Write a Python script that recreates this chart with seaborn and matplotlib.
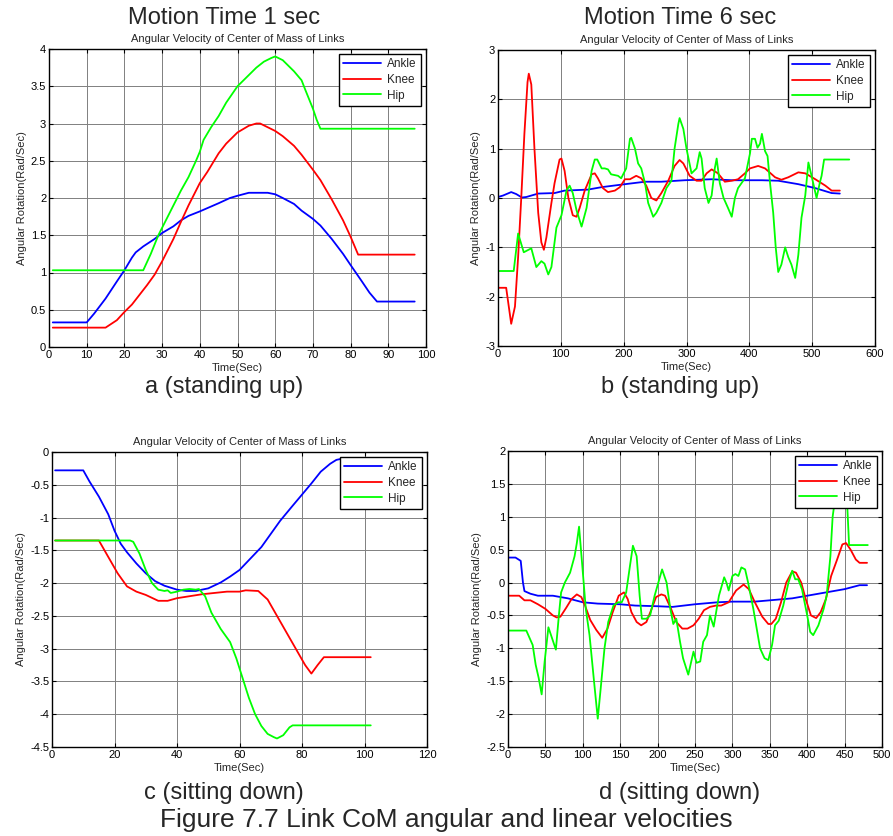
import numpy as np
import pandas as pd
import seaborn as sns
import matplotlib
matplotlib.use("Agg")
import matplotlib.pyplot as plt

# ---------------- data ----------------
joints = ["Ankle", "Knee", "Hip"]
colors = ["#0000FF", "#FF0000", "#00FF00"]

# Panel a (standing up, 1 sec)
a_ankle_x = [1, 10, 12, 15, 18, 20, 22, 23, 25, 28, 30, 33, 35, 37, 40, 45, 48, 50, 53, 58, 60, 62, 65, 67, 70, 72, 75, 78, 80, 83, 85, 87, 97]
a_ankle_y = [0.33, 0.33, 0.45, 0.65, 0.88, 1.03, 1.2, 1.27, 1.35, 1.45, 1.53, 1.62, 1.7, 1.76, 1.82, 1.93, 2.0, 2.03, 2.07, 2.07, 2.05, 2.0, 1.92, 1.83, 1.72, 1.63, 1.45, 1.25, 1.1, 0.88, 0.73, 0.61, 0.61]
a_knee_x = [1, 15, 18, 20, 22, 24, 26, 28, 30, 33, 35, 37, 40, 42, 45, 47, 50, 53, 55, 56, 58, 60, 62, 65, 67, 70, 72, 75, 78, 80, 82, 97]
a_knee_y = [0.26, 0.26, 0.36, 0.47, 0.57, 0.7, 0.83, 0.97, 1.15, 1.45, 1.68, 1.9, 2.2, 2.35, 2.6, 2.73, 2.88, 2.97, 3.0, 3.0, 2.95, 2.9, 2.83, 2.7, 2.58, 2.38, 2.24, 1.98, 1.7, 1.48, 1.24, 1.24]
a_hip_x = [1, 25, 27, 29, 31, 33, 35, 37, 39, 40, 41, 43, 45, 47, 50, 53, 55, 57, 59, 60, 62, 65, 67, 68, 70, 71, 72, 97]
a_hip_y = [1.03, 1.03, 1.25, 1.5, 1.7, 1.9, 2.1, 2.28, 2.5, 2.62, 2.78, 2.95, 3.1, 3.28, 3.5, 3.65, 3.75, 3.83, 3.88, 3.9, 3.85, 3.7, 3.58, 3.45, 3.2, 3.05, 2.93, 2.93]

# Panel b (standing up, 6 sec)
b_ankle_x = [0, 8, 21, 29, 38, 45, 64, 90, 106, 143, 165, 202, 234, 260, 297, 340, 372, 420, 446, 478, 505, 531, 544]
b_ankle_y = [0.02, 0.05, 0.12, 0.08, 0.01, 0.02, 0.09, 0.1, 0.15, 0.17, 0.22, 0.28, 0.33, 0.33, 0.36, 0.38, 0.36, 0.36, 0.35, 0.28, 0.2, 0.1, 0.09]
b_knee_x = [0, 13, 21, 27, 32, 37, 42, 47, 49, 53, 58, 64, 69, 73, 77, 85, 90, 98, 101, 106, 112, 119, 125, 130, 138, 149, 154, 159, 167, 175, 186, 194, 202, 210, 220, 228, 236, 244, 252, 260, 271, 281, 289, 295, 305, 316, 324, 332, 340, 350, 361, 372, 382, 393, 401, 414, 425, 441, 451, 462, 478, 489, 505, 521, 531, 544]
b_knee_y = [-1.82, -1.82, -2.55, -2.2, -1.2, 0.0, 1.3, 2.35, 2.52, 2.3, 1.0, -0.3, -0.9, -1.05, -0.8, -0.1, 0.3, 0.78, 0.8, 0.55, 0.0, -0.35, -0.38, -0.2, 0.15, 0.48, 0.5, 0.4, 0.2, 0.12, 0.15, 0.22, 0.38, 0.38, 0.45, 0.4, 0.25, 0.0, -0.05, 0.1, 0.35, 0.65, 0.77, 0.7, 0.45, 0.35, 0.35, 0.5, 0.58, 0.5, 0.33, 0.35, 0.38, 0.5, 0.6, 0.65, 0.6, 0.42, 0.37, 0.42, 0.52, 0.5, 0.38, 0.25, 0.15, 0.15]
b_hip_x = [0, 25, 32, 41, 53, 61, 69, 74, 80, 85, 93, 101, 109, 114, 119, 125, 133, 141, 149, 154, 158, 165, 170, 175, 180, 191, 196, 204, 210, 212, 218, 223, 228, 234, 239, 247, 252, 260, 268, 276, 281, 287, 289, 295, 300, 308, 316, 321, 324, 329, 335, 340, 345, 348, 353, 359, 366, 372, 377, 382, 393, 401, 404, 409, 413, 417, 420, 425, 429, 433, 438, 442, 446, 451, 457, 462, 467, 473, 478, 483, 489, 494, 499, 507, 512, 515, 519, 559]
b_hip_y = [-1.48, -1.48, -0.72, -1.1, -1.02, -1.4, -1.28, -1.33, -1.55, -1.4, -0.6, -0.35, 0.15, 0.25, 0.1, -0.25, -0.58, -0.2, 0.55, 0.78, 0.78, 0.6, 0.6, 0.58, 0.48, 0.45, 0.4, 0.6, 1.2, 1.22, 1.0, 0.7, 0.6, 0.3, -0.1, -0.38, -0.3, -0.1, 0.2, 0.35, 1.0, 1.5, 1.62, 1.4, 1.0, 0.5, 0.6, 0.93, 0.8, 0.2, -0.1, 0.05, 0.6, 0.8, 0.3, 0.0, -0.2, -0.38, 0.0, 0.2, 0.4, 0.9, 1.2, 1.2, 1.02, 1.1, 1.3, 0.95, 0.85, 0.3, -0.3, -1.0, -1.5, -1.35, -1.0, -1.2, -1.35, -1.62, -1.15, -0.4, 0.05, 0.72, 0.45, 0.0, 0.3, 0.45, 0.78, 0.78]

# Panel c (sitting down, 1 sec)
c_ankle_x = [1, 10, 12, 15, 18, 20, 22, 24, 27, 30, 33, 36, 40, 43, 46, 50, 54, 57, 60, 64, 67, 70, 73, 77, 80, 83, 86, 89, 91, 93, 95, 98, 102]
c_ankle_y = [-0.28, -0.28, -0.45, -0.68, -0.95, -1.2, -1.4, -1.53, -1.7, -1.85, -1.97, -2.04, -2.1, -2.12, -2.12, -2.08, -1.99, -1.9, -1.8, -1.6, -1.45, -1.25, -1.05, -0.82, -0.65, -0.48, -0.3, -0.18, -0.12, -0.1, -0.1, -0.1, -0.1]
c_knee_x = [1, 15, 18, 21, 24, 27, 30, 34, 37, 40, 44, 48, 52, 56, 60, 62, 66, 69, 72, 75, 78, 81, 83, 85, 87, 102]
c_knee_y = [-1.35, -1.35, -1.6, -1.85, -2.05, -2.13, -2.18, -2.27, -2.27, -2.23, -2.2, -2.17, -2.15, -2.13, -2.13, -2.11, -2.12, -2.25, -2.5, -2.75, -3.0, -3.25, -3.38, -3.25, -3.13, -3.13]
c_hip_x = [1, 25, 26, 28, 30, 32, 34, 36, 37, 38, 40, 42, 44, 46, 47, 49, 51, 54, 57, 59, 61, 63, 65, 67, 69, 71, 72, 74, 76, 77, 102]
c_hip_y = [-1.35, -1.35, -1.37, -1.55, -1.8, -2.0, -2.1, -2.12, -2.11, -2.15, -2.13, -2.1, -2.09, -2.1, -2.09, -2.2, -2.45, -2.7, -2.9, -3.15, -3.45, -3.75, -4.0, -4.18, -4.3, -4.35, -4.37, -4.32, -4.2, -4.17, -4.17]

# Panel d (sitting down, 6 sec)
d_ankle_x = [0, 10, 17, 20, 22, 30, 40, 60, 80, 100, 120, 150, 170, 200, 220, 250, 280, 300, 330, 350, 380, 400, 430, 450, 470, 480]
d_ankle_y = [0.38, 0.38, 0.33, 0.0, -0.13, -0.17, -0.2, -0.2, -0.24, -0.3, -0.32, -0.33, -0.35, -0.36, -0.37, -0.33, -0.3, -0.29, -0.29, -0.27, -0.24, -0.2, -0.14, -0.1, -0.04, -0.04]
d_knee_x = [0, 15, 22, 30, 40, 50, 60, 65, 70, 78, 85, 92, 98, 103, 110, 118, 126, 133, 140, 148, 155, 160, 165, 172, 178, 185, 192, 198, 205, 210, 218, 225, 233, 240, 248, 255, 262, 270, 278, 285, 295, 305, 315, 322, 330, 340, 348, 352, 358, 365, 372, 380, 385, 392, 398, 405, 412, 418, 425, 432, 440, 447, 452, 458, 465, 470, 480]
d_knee_y = [-0.2, -0.2, -0.27, -0.27, -0.33, -0.4, -0.5, -0.53, -0.52, -0.38, -0.25, -0.18, -0.22, -0.35, -0.57, -0.72, -0.84, -0.7, -0.45, -0.2, -0.15, -0.25, -0.45, -0.6, -0.65, -0.6, -0.4, -0.22, -0.18, -0.2, -0.4, -0.6, -0.7, -0.7, -0.65, -0.55, -0.42, -0.37, -0.35, -0.35, -0.3, -0.12, -0.03, -0.1, -0.3, -0.52, -0.63, -0.63, -0.55, -0.3, 0.0, 0.17, 0.15, 0.0, -0.25, -0.5, -0.54, -0.45, -0.25, 0.1, 0.35, 0.58, 0.6, 0.5, 0.35, 0.3, 0.3]
d_hip_x = [0, 24.5, 33, 37, 41, 45, 49, 54, 59, 64, 68, 71, 76, 83, 89, 92, 95, 99, 104, 109, 115, 120, 124, 129, 134, 141, 147, 152, 158, 163, 167, 172, 176, 179, 185, 190, 196, 201, 206, 212, 217, 221, 225, 230, 234, 241, 248, 252, 257, 261, 266, 270, 275, 279, 282, 289, 292, 295, 300, 304, 308, 312, 317, 321, 328, 337, 343, 348, 353, 357, 362, 368, 375, 380, 384, 388, 393, 400, 404, 408, 415, 422, 426, 431, 434, 440, 449, 453, 456, 481]
d_hip_y = [-0.73, -0.73, -0.95, -1.25, -1.45, -1.7, -1.2, -0.68, -0.85, -1.02, -0.5, -0.15, 0.0, 0.15, 0.4, 0.6, 0.85, 0.3, -0.4, -0.8, -1.5, -2.07, -1.6, -1.0, -0.6, -0.35, -0.3, -0.3, -0.15, 0.25, 0.56, 0.4, -0.2, -0.55, -0.55, -0.5, -0.2, 0.0, 0.2, 0.0, -0.4, -0.63, -0.55, -0.9, -1.15, -1.4, -1.05, -1.22, -1.2, -0.9, -0.8, -0.5, -0.67, -0.4, -0.2, 0.08, 0.0, -0.12, 0.1, 0.13, 0.1, 0.23, 0.2, 0.0, -0.4, -1.0, -1.15, -1.18, -0.95, -0.65, -0.58, -0.35, 0.0, 0.18, 0.05, 0.05, -0.1, -0.5, -0.75, -0.8, -0.65, -0.4, -0.2, 0.4, 1.0, 1.5, 1.6, 1.3, 0.57, 0.57]

# Titles / labels
top_titles = ["Motion Time 1 sec", "Motion Time 6 sec"]
panel_title = "Angular Velocity of Center of Mass of Links"
panel_labels = ["a (standing up)", "b (standing up)", "c (sitting down)", "d (sitting down)"]
x_label = "Time(Sec)"
y_label = "Angular Rotation(Rad/Sec)"
caption = "Figure 7.7 Link CoM angular and linear velocities"

# axis settings
a_xticks = [0, 10, 20, 30, 40, 50, 60, 70, 80, 90, 100]
a_yticks = [0, 0.5, 1, 1.5, 2, 2.5, 3, 3.5, 4]
b_xticks = [0, 100, 200, 300, 400, 500, 600]
b_yticks = [-3, -2, -1, 0, 1, 2, 3]
c_xticks = [0, 20, 40, 60, 80, 100, 120]
c_yticks = [-4.5, -4, -3.5, -3, -2.5, -2, -1.5, -1, -0.5, 0]
d_xticks = [0, 50, 100, 150, 200, 250, 300, 350, 400, 450, 500]
d_yticks = [-2.5, -2, -1.5, -1, -0.5, 0, 0.5, 1, 1.5, 2]

panels = [
    dict(series=[(a_ankle_x, a_ankle_y), (a_knee_x, a_knee_y), (a_hip_x, a_hip_y)], xt=a_xticks, yt=a_yticks),
    dict(series=[(b_ankle_x, b_ankle_y), (b_knee_x, b_knee_y), (b_hip_x, b_hip_y)], xt=b_xticks, yt=b_yticks),
    dict(series=[(c_ankle_x, c_ankle_y), (c_knee_x, c_knee_y), (c_hip_x, c_hip_y)], xt=c_xticks, yt=c_yticks),
    dict(series=[(d_ankle_x, d_ankle_y), (d_knee_x, d_knee_y), (d_hip_x, d_hip_y)], xt=d_xticks, yt=d_yticks),
]

# ---------------- drawing ----------------
sns.set_style("ticks")
plt.rcParams["font.family"] = ["Liberation Sans", "DejaVu Sans"]

W, H = 893, 836
fig = plt.figure(figsize=(W / 100, H / 100), dpi=100)

boxes = [(49, 426, 49, 347), (498, 875, 50, 346), (52, 427, 452, 747), (508, 882, 451, 747)]

def fmt(v):
    return "%g" % v

for i, (p, (l, r, t, b)) in enumerate(zip(panels, boxes)):
    ax = fig.add_axes([l / W, 1 - b / H, (r - l) / W, (b - t) / H])
    frames = []
    for name, (xs, ys) in zip(joints, p["series"]):
        frames.append(pd.DataFrame({"x": xs, "y": ys, "joint": name}))
    df = pd.concat(frames, ignore_index=True)
    sns.lineplot(data=df, x="x", y="y", hue="joint", hue_order=joints,
                 palette=colors, estimator=None, sort=False, linewidth=1.3,
                 ax=ax, legend=False)
    ax.set_xlim(p["xt"][0], p["xt"][-1])
    ax.set_ylim(p["yt"][0], p["yt"][-1])
    ax.set_xticks(p["xt"])
    ax.set_xticklabels([fmt(v) for v in p["xt"]])
    ax.set_yticks(p["yt"])
    ax.set_yticklabels([fmt(v) for v in p["yt"]])
    ax.tick_params(direction="in", top=True, right=True, length=3, width=0.8,
                   labelsize=8, pad=2, colors="black")
    ax.grid(True, color="#808080", linewidth=0.7, linestyle="-")
    for s in ax.spines.values():
        s.set_color("black")
        s.set_linewidth(1.0)
    ax.set_xlabel(x_label, fontsize=8, labelpad=2)
    ax.set_ylabel(y_label, fontsize=8, labelpad=3)
    ax.set_title(panel_title, fontsize=8, pad=5)
    handles = [plt.Line2D([], [], color=c, lw=1.3) for c in colors]
    leg = ax.legend(handles, joints, loc="upper right", fontsize=8.5,
                    frameon=True, fancybox=False, framealpha=1, edgecolor="black",
                    handlelength=3.2, borderaxespad=0.4, labelspacing=0.3,
                    borderpad=0.4, handletextpad=0.5)
    leg.get_frame().set_linewidth(1.0)
    leg.set_zorder(10)

fig.text(224 / W, 1 - 18 / H, top_titles[0], ha="center", va="center", fontsize=17)
fig.text(680 / W, 1 - 18 / H, top_titles[1], ha="center", va="center", fontsize=17)
fig.text(224 / W, 1 - 387 / H, panel_labels[0], ha="center", va="center", fontsize=17)
fig.text(680 / W, 1 - 387 / H, panel_labels[1], ha="center", va="center", fontsize=17)
fig.text(224 / W, 1 - 793 / H, panel_labels[2], ha="center", va="center", fontsize=17)
fig.text(680 / W, 1 - 793 / H, panel_labels[3], ha="center", va="center", fontsize=17)
fig.text(446 / W, 1 - 820 / H, caption, ha="center", va="center", fontsize=19)

fig.savefig("out.png", dpi=100, facecolor="white")
